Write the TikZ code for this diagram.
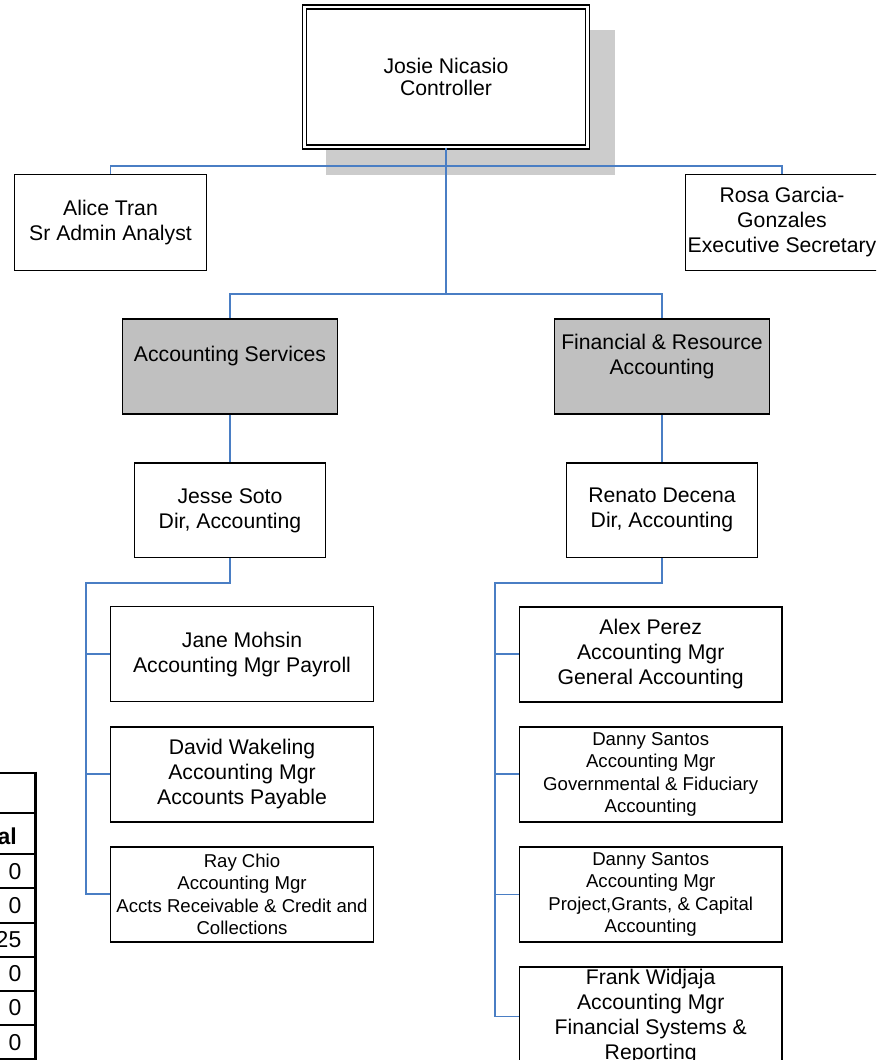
\documentclass[tikz,border=0pt]{standalone}
\usepackage{fontspec}
\setmainfont{Liberation Sans}
\usetikzlibrary{positioning}

\definecolor{linkblue}{RGB}{74,126,196}
\definecolor{unitgray}{RGB}{192,192,192}
\definecolor{shadowgray}{RGB}{204,204,204}

\newcommand{\orgfont}{\fontsize{21.2}{25}\selectfont}
\newcommand{\orgsmall}{\fontsize{18.6}{22.5}\selectfont}
\newcommand{\headfont}{\fontsize{21.2}{22}\selectfont}
\newcommand{\tabfont}{\fontsize{23}{26}\selectfont}

\begin{document}
\begin{tikzpicture}[x=1pt, y=-1pt,
    every node/.style={font=\orgfont},
    unit/.style={rectangle, draw, line width=1.5pt, fill=white, align=center, inner sep=2pt},
    head/.style={unit, line width=1.3pt, double=white, double distance=2.8pt,
      minimum width=283.5pt, minimum height=140pt, font=\headfont},
    staff/.style={unit, minimum width=191.6pt, minimum height=95.6pt},
    division/.style={unit, fill=unitgray, minimum width=214.6pt, minimum height=95pt},
    director/.style={unit, minimum width=190.6pt, minimum height=94.6pt},
    manager/.style={unit, minimum width=262.6pt, minimum height=95pt},
    link/.style={draw=linkblue, line width=1.9pt},
    tabrule/.style={line width=1.5pt},
    cell/.style={inner sep=0pt, font=\tabfont, anchor=east}]
  \useasboundingbox (0,0) rectangle (876,1060);
  \clip (0,0) rectangle (876,1060);

  % shadow behind the controller
  \fill[shadowgray] (326,30) rectangle (615,175);

  \node[head] (controller) at (446,77) {Josie Nicasio\\Controller};
  \node[staff] (analyst) at (110.5,222.5) {Alice Tran\\Sr Admin Analyst};
  \node[staff] (secretary) at (782,222.5) {Rosa Garcia-\\Gonzales\\Executive Secretary};

  \node[division] (services) at (230,366.5) {Accounting Services\\\mbox{}};
  \node[division] (financial) at (662,366.5) {Financial \& Resource\\Accounting\\\mbox{}};

  \node[director] (dirsvc) at (230,510.3) {Jesse Soto\\Dir, Accounting};
  \node[director] (dirfin) at (662,510.3) {Renato Decena\\Dir, Accounting};

  % accounting services managers
  \node[manager] (payroll) at (242,654.2) {Jane Mohsin\\Accounting Mgr Payroll};
  \node[manager, below=23.6pt of payroll] (payable) {David Wakeling\\Accounting Mgr\\Accounts Payable};
  \node[manager, below=23.6pt of payable, font=\orgsmall] (receivable)
    {Ray Chio\\Accounting Mgr\\Accts Receivable \& Credit and\\Collections};

  % financial & resource managers
  \node[manager] (general) at (650.7,654.3) {Alex Perez\\Accounting Mgr\\General Accounting};
  \node[manager, below=23.6pt of general, font=\orgsmall] (fiduciary)
    {Danny Santos\\Accounting Mgr\\Governmental \& Fiduciary\\Accounting};
  \node[manager, below=23.6pt of fiduciary, font=\orgsmall] (grants)
    {Danny Santos\\Accounting Mgr\\Project,Grants, \& Capital\\Accounting};
  \node[manager, below=23.6pt of grants] (systems)
    {Frank Widjaja\\Accounting Mgr\\Financial Systems \&\\Reporting};

  % connectors
  \coordinate (topbus) at (446,166);
  \coordinate (midbus) at (446,294);
  \coordinate (lbus) at (86,582.7);
  \coordinate (rbus) at (495,582.7);

  \draw[link] (analyst.north) |- (topbus) -| (secretary.north);
  \draw[link] (controller.south) -- (midbus);
  \draw[link] (services.north) |- (midbus) -| (financial.north);
  \draw[link] (services) -- (dirsvc);
  \draw[link] (financial) -- (dirfin);

  \draw[link] (dirsvc.south) |- (lbus) |- (receivable.west);
  \foreach \n in {payroll,payable}
    \draw[link] (lbus |- \n.west) -- (\n.west);

  \draw[link] (dirfin.south) |- (rbus) |- (systems.west);
  \foreach \n in {general,fiduciary,grants}
    \draw[link] (rbus |- \n.west) -- (\n.west);

  % edge of the staffing table
  \foreach \y in {773,813,854,888,923,957,991,1025,1059}
    \draw[tabrule] (-10,\y) -- (36,\y);
  \draw[line width=2.7pt] (35.4,771.6) -- (35.4,1062);
  \node[cell] (total) at (17,836) {\bfseries al};
  \foreach \v/\y [count=\i] in {0/871.5,0/905.5,25/940,0/974,0/1008,0/1042.5}
    \node[cell] (row\i) at (21.5,\y) {\v};
\end{tikzpicture}
\end{document}
